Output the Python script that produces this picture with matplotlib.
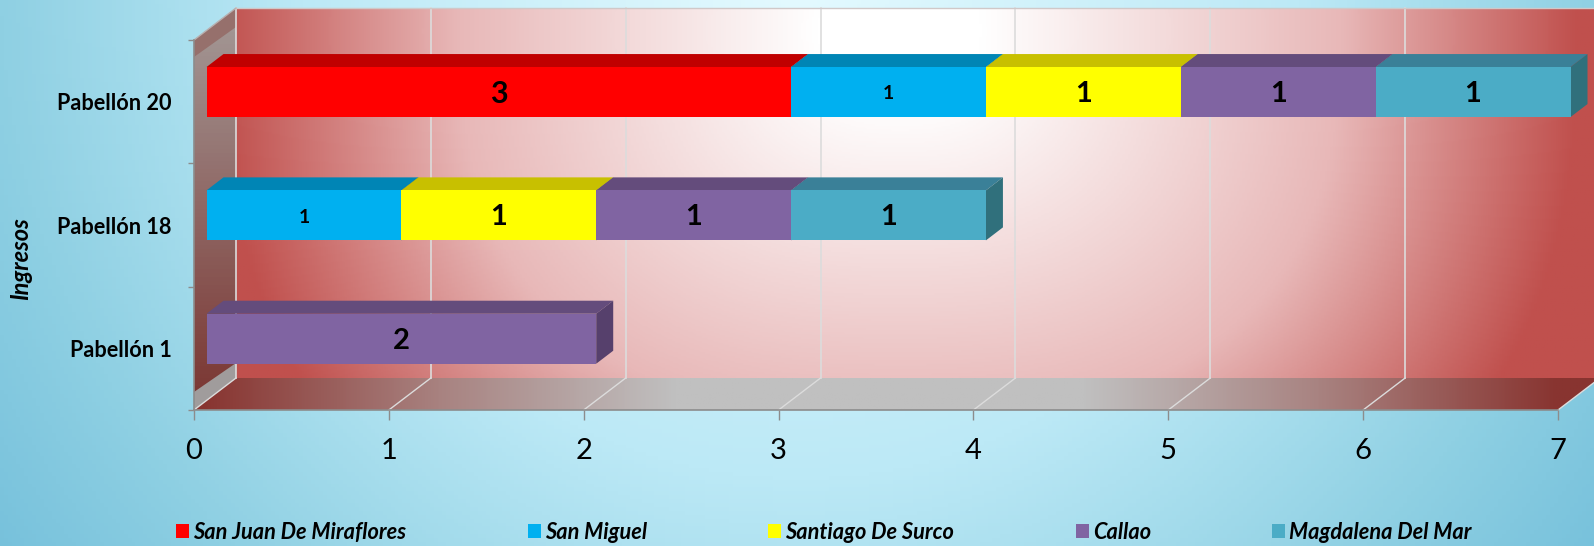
import numpy as np
import matplotlib
matplotlib.use('Agg')
import matplotlib.pyplot as plt
from matplotlib.colors import LinearSegmentedColormap
from matplotlib.patches import Patch, Polygon

categories = ['Pabellón 1', 'Pabellón 18', 'Pabellón 20']
series_names = ['San Juan De Miraflores', 'San Miguel', 'Santiago De Surco', 'Callao', 'Magdalena Del Mar']
san_juan = [0, 0, 3]
san_miguel = [0, 1, 1]
surco = [0, 1, 1]
callao = [2, 1, 1]
magdalena = [0, 1, 1]
series_values = [san_juan, san_miguel, surco, callao, magdalena]

face_colors = ['#ff0000', '#00b0f0', '#ffff00', '#8064a2', '#4bacc6']
top_colors = ['#c00000', '#0085b5', '#c8c000', '#644c7c', '#3a8098']
side_colors = ['#a00000', '#00688e', '#a09a00', '#56406c', '#30707c']
label_sizes = [22, 14, 21, 21, 21]

plt.rcParams['font.family'] = ['Lato', 'DejaVu Sans']

# px per data unit, the 3d look is faked with these offsets
UX = 1364 / 7
UY = 370 / 3
WALL_DX = 42 / UX
WALL_DY = 32 / UY
BAR_DX = 17 / UX
BAR_DY = 13 / UY
BAR_INSET = 12.5 / UX
BAR_H = 50 / UY
BAR_SHIFT = 0.078

fig = plt.figure(figsize=(15.94, 5.46), dpi=100)

bg = fig.add_axes([0, 0, 1, 1], zorder=-1)
bg.axis('off')
xx, yy = np.meshgrid(np.linspace(0, 1594, 400), np.linspace(0, 546, 140))
t = np.sqrt(((xx - 800) / 800) ** 2 + ((yy + 20) / 800) ** 2) / 1.25
bg_cmap = LinearSegmentedColormap.from_list('bg', [(0, '#e4faff'), (0.5, '#bce9f6'), (0.8, '#8fd0e3'), (1, '#75c0db')])
bg.imshow(t, cmap=bg_cmap, vmin=0, vmax=1, extent=[0, 1594, 546, 0], aspect='auto')

ax = fig.add_axes([194 / 1594, 136 / 546, 1364 / 1594, 370 / 546])
ax.patch.set_alpha(0)


def clipped_image(data, cmap, extent, corners, zorder=1):
    poly = Polygon(corners, closed=True, transform=ax.transData)
    im = ax.imshow(data, cmap=cmap, vmin=0, vmax=1, extent=extent, aspect='auto', zorder=zorder)
    im.set_clip_path(poly)
    im.set_clip_box(fig.bbox)
    return im


# back wall
wall_cmap = LinearSegmentedColormap.from_list('wall', [(0, '#ffffff'), (0.12, '#ffffff'), (0.65, '#e8b8b8'), (1, '#c0504d')])
wx, wy = np.meshgrid(np.linspace(WALL_DX, 7 + WALL_DX, 500), np.linspace(3 + WALL_DY, WALL_DY, 200))
wall_t = (np.abs((wx * UX + 194 - 900) / 680) ** 2.5 + np.abs(((3 - wy) * UY + 40 - 30) / 600) ** 2.5) ** (1 / 2.5)
clipped_image(wall_t, wall_cmap, [WALL_DX, 7 + WALL_DX, WALL_DY, 3 + WALL_DY],
              [(WALL_DX, WALL_DY), (7 + WALL_DX, WALL_DY), (7 + WALL_DX, 3 + WALL_DY), (WALL_DX, 3 + WALL_DY)])

# floor
floor_cmap = LinearSegmentedColormap.from_list('floor', [(0, '#c0c0c0'), (0.3, '#c0c0c0'), (0.65, '#a88280'), (1, '#883430')])
fx = np.linspace(0, 7 + WALL_DX, 500)
floor_t = np.abs(fx * UX + 194 - 880)[None, :] / 680
clipped_image(floor_t, floor_cmap, [0, 7 + WALL_DX, 0, WALL_DY],
              [(0, 0), (7, 0), (7 + WALL_DX, WALL_DY), (WALL_DX, WALL_DY)])

# left wall
side_cmap = LinearSegmentedColormap.from_list('side', ['#a49a98', '#7a3430'])
side_t = np.linspace(0, 1, 100)[:, None]
clipped_image(side_t, side_cmap, [0, WALL_DX, 0, 3 + WALL_DY],
              [(0, 0), (WALL_DX, WALL_DY), (WALL_DX, 3 + WALL_DY), (0, 3)])
ax.add_patch(Polygon([(0, 3), (WALL_DX, 3 + WALL_DY), (WALL_DX, 3 + WALL_DY - 19 / UY), (0, 3 - 17 / UY)],
                     color='#96706c', lw=0, zorder=1.5, clip_on=False))
ax.add_patch(Polygon([(0, 0), (WALL_DX, WALL_DY), (WALL_DX, WALL_DY + 15 / UY), (0, 18 / UY)],
                     color='#a09c9c', lw=0, zorder=1.5, clip_on=False))

# gridlines
for v in range(0, 8):
    ax.plot([v + WALL_DX, v + WALL_DX], [WALL_DY, 3 + WALL_DY], color='#dcdcdc', lw=1.2, zorder=2, clip_on=False)
    ax.plot([v, v + WALL_DX], [0, WALL_DY], color='#dcdcdc', lw=1.0, zorder=2, clip_on=False)
ax.plot([WALL_DX, 7 + WALL_DX], [3 + WALL_DY, 3 + WALL_DY], color='#d0c8c8', lw=1, zorder=2, clip_on=False)
ax.plot([0, WALL_DX], [3, 3 + WALL_DY], color='#b8b0b0', lw=1, zorder=2, clip_on=False)

# stacked bars
ypos = np.arange(len(categories)) + 0.5 + BAR_SHIFT
lefts = np.zeros(len(categories)) + BAR_INSET
for i, vals in enumerate(series_values):
    vals = np.array(vals, dtype=float)
    for j, w in enumerate(vals):
        if w == 0:
            continue
        x0 = lefts[j]
        x1 = x0 + w
        top = ypos[j] + BAR_H / 2
        bot = ypos[j] - BAR_H / 2
        ax.add_patch(Polygon([(x0, top), (x0 + BAR_DX, top + BAR_DY), (x1 + BAR_DX, top + BAR_DY), (x1, top)],
                             color=top_colors[i], lw=0, zorder=3 + i * 0.1, clip_on=False))
        ax.add_patch(Polygon([(x1, top), (x1 + BAR_DX, top + BAR_DY), (x1 + BAR_DX, bot + BAR_DY), (x1, bot)],
                             color=side_colors[i], lw=0, zorder=3 + i * 0.1, clip_on=False))
        ax.text((x0 + x1) / 2, ypos[j] - 0.015, '%d' % w, ha='center', va='center', fontsize=label_sizes[i],
                fontweight='bold', color='black', zorder=6)
    ax.barh(ypos, vals, left=lefts, height=BAR_H, color=face_colors[i], lw=0, zorder=4, clip_on=False)
    lefts = lefts + vals

ax.set_xlim(0, 7)
ax.set_ylim(0, 3)

ax.set_xticks(range(0, 8))
ax.tick_params(axis='x', length=7, width=1, color='#8c8c8c', labelsize=21, pad=13, labelcolor='black')
ax.set_yticks(range(0, 4))
ax.set_yticklabels([])
ax.set_yticks(np.arange(len(categories)) + 0.5, minor=True)
ax.set_yticklabels(categories, minor=True, fontsize=15.6, fontweight='bold')
ax.tick_params(axis='y', which='major', length=4.5, width=1, color='#8c8c8c')
ax.tick_params(axis='y', which='minor', length=0, pad=16)
for s in ['top', 'right']:
    ax.spines[s].set_visible(False)
for s in ['left', 'bottom']:
    ax.spines[s].set_color('#8c8c8c')
    ax.spines[s].set_linewidth(1.2)
    ax.spines[s].set_zorder(2.5)

fig.text(21 / 1594, 1 - 259 / 546, 'Ingresos', rotation=90, ha='center', va='center',
         fontsize=17, fontweight='bold', fontstyle='italic')

handles = [Patch(color=c, lw=0) for c in face_colors]
LEG_FS = 15.7
px = LEG_FS * 100 / 72
fig.legend(handles, series_names, ncol=5, loc='lower left', bbox_to_anchor=(176 / 1594, 3 / 546),
           frameon=False, borderpad=0, borderaxespad=0, handlelength=13 / px, handleheight=13 / px,
           handletextpad=4 / px, columnspacing=121.5 / px,
           prop={'family': 'Lato', 'size': LEG_FS, 'weight': 'bold', 'style': 'italic'})

fig.savefig('out.png', dpi=100)
